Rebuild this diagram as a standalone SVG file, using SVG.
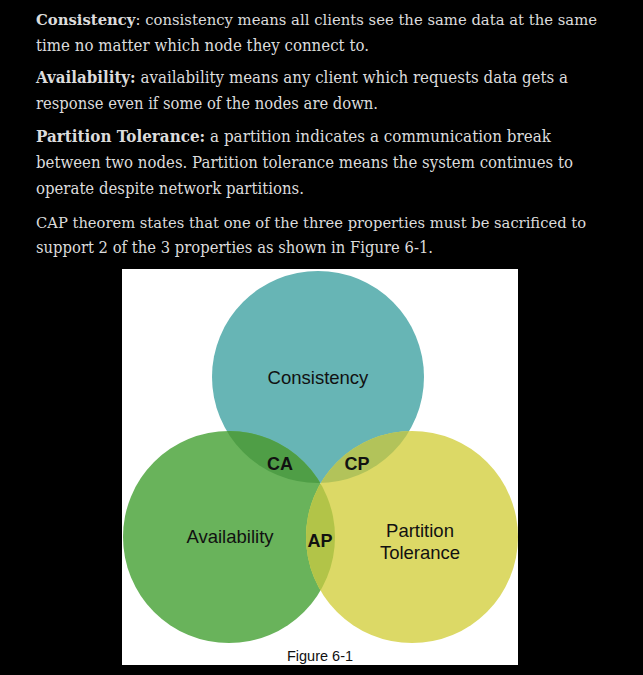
<svg xmlns="http://www.w3.org/2000/svg" width="643" height="675" viewBox="0 0 643 675">
<style>
.p{font-family:"DejaVu Serif","Liberation Serif",serif;font-size:16.5px;fill:#dcdcdc}
.n{font-size:15px}
.b{font-weight:bold}
.l{font-family:"Liberation Sans",Arial,sans-serif;fill:#111;text-anchor:middle}
.big{font-size:18.5px}
.sm{font-weight:bold;font-size:18px}
</style>
<defs>
<clipPath id="cT"><circle cx="318" cy="377" r="106"/></clipPath>
<clipPath id="cA"><circle cx="229" cy="537" r="106"/></clipPath>
</defs>
<rect width="643" height="675" fill="#000"/>
<g id="text">
<text class="p n" x="36" y="25" textLength="561" lengthAdjust="spacingAndGlyphs"><tspan class="b">Consistency</tspan>: consistency means all clients see the same data at the same</text>
<text class="p" x="36" y="51" textLength="333" lengthAdjust="spacingAndGlyphs">time no matter which node they connect to.</text>
<text class="p" x="36" y="83" textLength="532" lengthAdjust="spacingAndGlyphs"><tspan class="b">Availability:</tspan> availability means any client which requests data gets a</text>
<text class="p" x="36" y="109" textLength="342" lengthAdjust="spacingAndGlyphs">response even if some of the nodes are down.</text>
<text class="p" x="36" y="142" textLength="515" lengthAdjust="spacingAndGlyphs"><tspan class="b">Partition Tolerance:</tspan> a partition indicates a communication break</text>
<text class="p" x="36" y="168" textLength="537" lengthAdjust="spacingAndGlyphs">between two nodes. Partition tolerance means the system continues to</text>
<text class="p" x="36" y="194" textLength="268" lengthAdjust="spacingAndGlyphs">operate despite network partitions.</text>
<text class="p n" x="36" y="228" textLength="550" lengthAdjust="spacingAndGlyphs">CAP theorem states that one of the three properties must be sacrificed to</text>
<text class="p" x="36" y="253" textLength="397" lengthAdjust="spacingAndGlyphs">support 2 of the 3 properties as shown in Figure 6-1.</text>
</g>
<rect id="figure-bg" x="122" y="269" width="396" height="396" fill="#fff"/>
<g id="consistency">
<circle cx="318" cy="377" r="106" fill="#67b5b5"/>
</g>
<g id="availability">
<circle cx="229" cy="537" r="106" fill="#69b35b"/>
</g>
<g id="partition-tolerance">
<circle cx="412" cy="537" r="106" fill="#dcd966"/>
</g>
<g id="overlaps">
<g clip-path="url(#cT)"><circle cx="229" cy="537" r="106" fill="#4f9e46"/></g>
<g clip-path="url(#cT)"><circle cx="412" cy="537" r="106" fill="#b2c35a"/></g>
<g clip-path="url(#cA)"><circle cx="412" cy="537" r="106" fill="#b2c448"/></g>
</g>
<g id="labels">
<text class="l big" x="318" y="384">Consistency</text>
<text class="l big" x="230" y="543">Availability</text>
<text class="l big" x="420" y="537">Partition</text>
<text class="l big" x="420" y="559">Tolerance</text>
<text class="l sm" x="280" y="470">CA</text>
<text class="l sm" x="357" y="470">CP</text>
<text class="l sm" x="320" y="547">AP</text>
<text class="l" x="320" y="661" font-size="14.5">Figure 6-1</text>
</g>
</svg>
